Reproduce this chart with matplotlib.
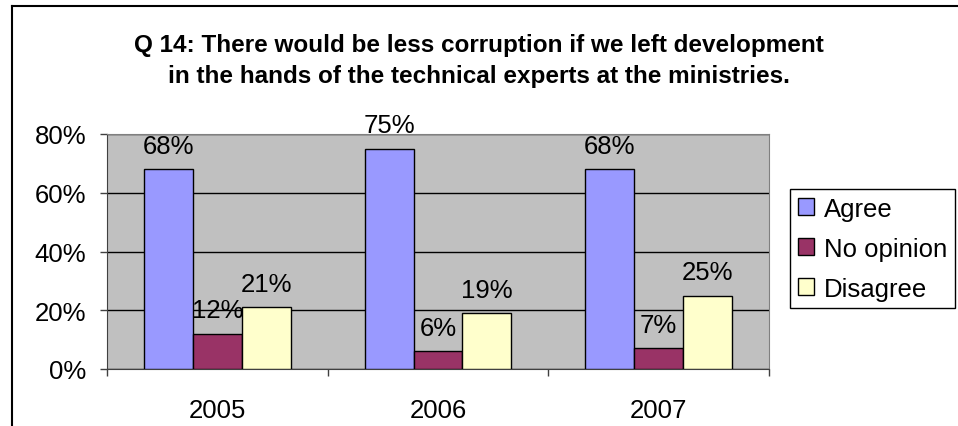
import matplotlib.pyplot as plt
import numpy as np
from matplotlib.lines import Line2D

plt.rcParams['font.family'] = ['Liberation Sans', 'DejaVu Sans']

# data
years = ['2005', '2006', '2007']
series = ['Agree', 'No opinion', 'Disagree']
agree = [68, 75, 68]
no_opinion = [12, 6, 7]
disagree = [21, 19, 25]
colores = ['#9999FF', '#993366', '#FFFFCC']
y_ticks = [0, 20, 40, 60, 80]

fs = 18.5
fig = plt.figure(figsize=(9.58, 4.27), dpi=100)
W, H = 958, 427
ax = fig.add_axes([107 / W, 1 - 370 / H, (769 - 107) / W, 235 / H])
ax.set_facecolor('#C0C0C0')

x = np.arange(len(years))
ancho = 0.222
valores = [agree, no_opinion, disagree]
for i, (nombre, vals, col) in enumerate(zip(series, valores, colores)):
    barras = ax.bar(x + (i - 1) * ancho, vals, ancho, color=col, edgecolor='black',
                    linewidth=1, label=nombre, zorder=3)
    for b, v in zip(barras, vals):
        ax.annotate(f'{v}%', (b.get_x() + b.get_width() / 2, v), xytext=(0, 11.7),
                    textcoords='offset points', ha='center', va='baseline', fontsize=fs,
                    zorder=4)

ax.set_xlim(-0.5, 2.5)
ax.set_ylim(0, 80)
ax.set_yticks(y_ticks)
ax.set_yticklabels([f'{t}%' for t in y_ticks], fontsize=fs)
ax.yaxis.grid(True, color='black', linewidth=1)
ax.set_axisbelow(True)

# category ticks between groups, labels centered
ax.set_xticks(x)
ax.set_xticklabels(years, fontsize=fs)
ax.tick_params(axis='x', which='major', length=0, pad=21)
ax.set_xticks(np.arange(-0.5, 3, 1), minor=True)
ax.tick_params(axis='x', which='minor', length=5, width=1, direction='out', color='#404040')
ax.tick_params(axis='y', length=5, width=1, color='#404040', pad=10)

for lado in ['top', 'right']:
    ax.spines[lado].set_color('#808080')
for lado in ['left', 'bottom']:
    ax.spines[lado].set_color('#404040')

leg = ax.legend(loc='upper left', bbox_to_anchor=(790 / W, 1 - 190 / H),
                bbox_transform=fig.transFigure, borderaxespad=0, fontsize=fs,
                handlelength=0.64, handleheight=0.64, handletextpad=0.38,
                labelspacing=0.62, borderpad=0.3, fancybox=False, framealpha=1)
leg.get_frame().set_edgecolor('black')
leg.get_frame().set_linewidth(1)

fig.text(0.5, 1 - 52 / H, 'Q 14: There would be less corruption if we left development',
         ha='center', va='baseline', fontsize=17.5, fontweight='bold')
fig.text(0.5, 1 - 83 / H, 'in the hands of the technical experts at the ministries.',
         ha='center', va='baseline', fontsize=17.5, fontweight='bold')

# borde del grafico (solo arriba e izquierda visibles)
fig.add_artist(Line2D([12 / W, 1], [1 - 7 / H, 1 - 7 / H], color='black', linewidth=1.5))
fig.add_artist(Line2D([12 / W, 12 / W], [0, 1 - 7 / H], color='black', linewidth=1.5))

fig.savefig('out.png', dpi=100)
